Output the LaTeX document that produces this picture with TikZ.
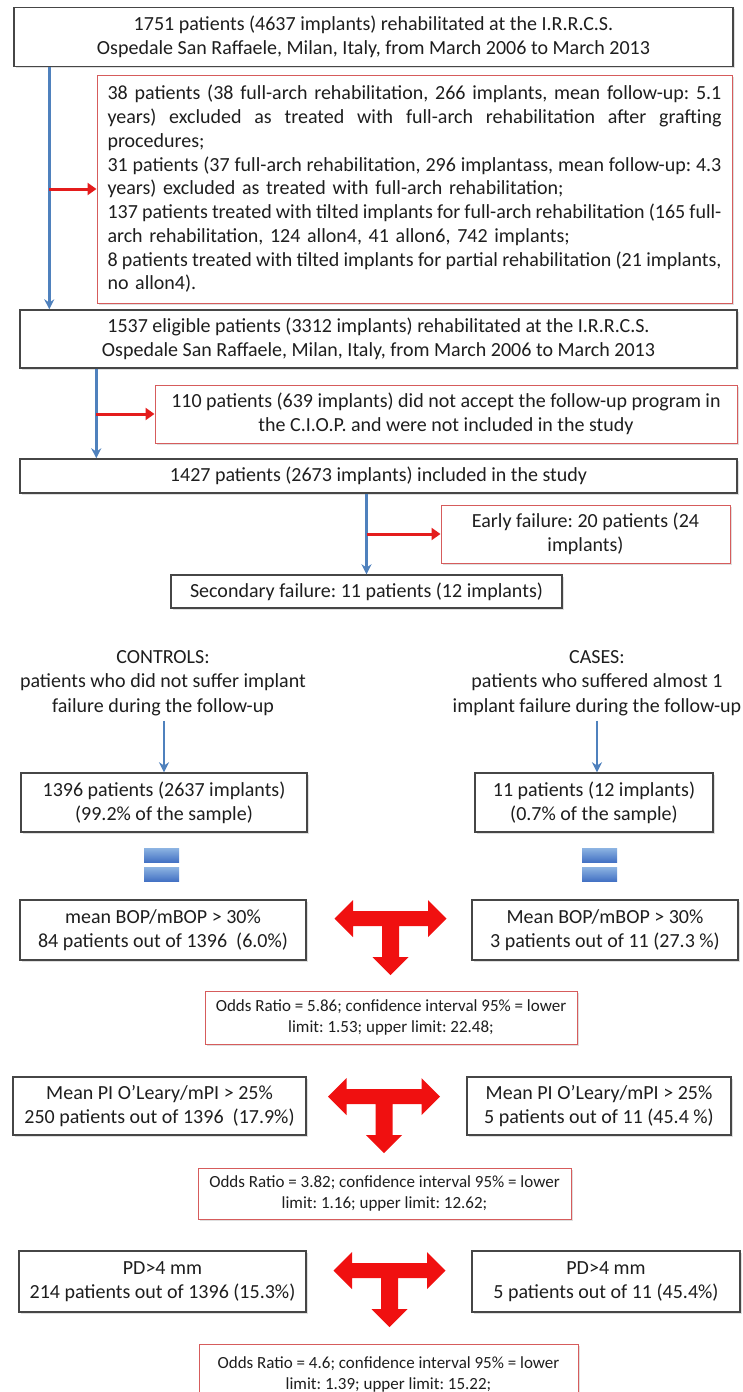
\documentclass[tikz,border=0pt]{standalone}
\usepackage{fontspec}
\setmainfont{Carlito}
\usetikzlibrary{arrows.meta,shadows,calc}
\definecolor{bluel}{RGB}{79,129,189}
\definecolor{redl}{RGB}{228,28,28}
\definecolor{redbox}{RGB}{214,92,92}
\definecolor{grayb}{RGB}{70,70,70}
\definecolor{tred}{RGB}{240,16,16}
\definecolor{eqtop}{RGB}{141,180,226}
\definecolor{eqbot}{RGB}{68,114,196}
\definecolor{txt}{RGB}{30,30,30}
\newcommand{\jline}[1]{\leavevmode\hbox to 614pt{\spaceskip=4.5pt plus 40pt minus 1.8pt\relax #1}}
\tikzset{
 box/.style={draw=grayb, line width=1.4pt, fill=white, inner sep=0pt, align=center, text=txt,
   font=\fontsize{20}{24}\selectfont\frenchspacing, drop shadow={opacity=0.25, shadow xshift=1.5pt, shadow yshift=-1.5pt}},
 rbox/.style={box, draw=redbox, line width=1pt},
 obox/.style={rbox, font=\fontsize{17}{21}\selectfont\frenchspacing},
 plain/.style={inner sep=0pt, align=center, text=txt, font=\fontsize{20}{24.5}\selectfont\frenchspacing},
 bluearrow/.style={draw=bluel, line width=2.4pt, -{Stealth[length=10pt,width=10pt]}},
 redarrow/.style={draw=redl, line width=3pt, -{Triangle[length=9pt,width=12pt]}},
 eqbar/.style={top color=eqtop, bottom color=eqbot, draw=none},
 tarrow/.pic={\fill[tred] (-56,0) -- (-37.5,-18.5) -- (-37.5,-7.5) -- (37.5,-7.5) -- (37.5,-18.5) -- (56,0)
   -- (37.5,18.5) -- (37.5,7.5) -- (8.5,7.5) -- (8.5,38.5) -- (18,38.5) -- (0,56.5) -- (-18,38.5)
   -- (-8.5,38.5) -- (-8.5,7.5) -- (-37.5,7.5) -- (-37.5,18.5) -- cycle;},
}
\begin{document}
\begin{tikzpicture}[x=1pt,y=-1pt]
\useasboundingbox (0,0) rectangle (743,1392);
\fill[white] (0,0) rectangle (743,1392);
\clip (0,0) rectangle (743,1392);

% top flow
\node[box, minimum width=719pt, minimum height=59pt] (top) at (373.5,37)
  {1751 patients (4637 implants) rehabilitated at the I.R.R.C.S.\\Ospedale San Raffaele, Milan, Italy, from March 2006 to March 2013};
\node[rbox, minimum width=635pt, minimum height=228pt, text width=614pt, align=left,
      font=\fontsize{20}{23.75}\selectfont\frenchspacing] (red1) at (414.5,189)
  {\jline{38 patients (38 full-arch rehabilitation, 266 implants, mean follow-up: 5.1}\\
   \jline{years) excluded as treated with full-arch rehabilitation after grafting}\\
   procedures;\\
   \jline{31 patients (37 full-arch rehabilitation, 296 implantass, mean follow-up: 4.3}\\
   years) excluded as treated with full-arch rehabilitation;\\
   \jline{137 patients treated with tilted implants for full-arch rehabilitation (165 full-}\\
   arch rehabilitation, 124 allon4, 41 allon6, 742 implants;\\
   \jline{8 patients treated with tilted implants for partial rehabilitation (21 implants,}\\
   no allon4).};
\node[box, minimum width=717pt, minimum height=58pt] (box2) at (378.5,339)
  {1537 eligible patients (3312 implants) rehabilitated at the I.R.R.C.S.\\Ospedale San Raffaele, Milan, Italy, from March 2006 to March 2013};
\node[rbox, minimum width=582pt, minimum height=58pt] (red2) at (446,414)
  {110 patients (639 implants) did not accept the follow-up program in\\the C.I.O.P. and were not included in the study};
\node[box, minimum width=717pt, minimum height=34pt] (box3) at (378.5,476)
  {1427 patients (2673 implants) included in the study};
\node[rbox, minimum width=289pt, minimum height=58pt] (early) at (585.5,534)
  {Early failure: 20 patients (24\\implants)};
\node[box, minimum width=391pt, minimum height=33pt] (sec) at (366.5,591.5)
  {Secondary failure: 11 patients (12 implants)};

\coordinate (l1) at ([xshift=36pt]top.south west);
\coordinate (l2) at ([xshift=77pt]box2.south west);
\coordinate (l3) at (box3.south -| sec.north);
\draw[bluearrow] (l1) -- (l1 |- box2.north);
\draw[redarrow] (l1 |- red1.west) -- (red1.west);
\draw[bluearrow] (l2) -- (l2 |- box3.north);
\draw[redarrow] (l2 |- red2.west) -- (red2.west);
\draw[bluearrow] (l3) -- (sec.north);
\draw[redarrow] (l3 |- early.west) -- (early.west);

% groups
\node[plain] (ctrl) at (163,683) {CONTROLS:\\patients who did not suffer implant\\failure during the follow-up};
\node[plain] (cases) at (597,683) {CASES:\\patients who suffered almost 1\\implant failure during the follow-up};
\node[box, minimum width=286pt, minimum height=59pt] (nctrl) at (164,802.5)
  {1396 patients (2637 implants)\\(99.2\% of the sample)};
\node[box, minimum width=238pt, minimum height=59pt] (ncase) at (594,802.5)
  {11 patients (12 implants)\\(0.7\% of the sample)};
\coordinate (ca) at (cases.south);
\draw[bluearrow, shorten <=5pt] (ctrl.south -| nctrl.north) -- (nctrl.north);
\draw[bluearrow, shorten <=5pt] (ca) -- (ca |- ncase.north);

% equal signs
\fill[eqbar] (144,848) rectangle (179,862);
\fill[eqbar] (144,867) rectangle (179,881);
\fill[eqbar] (582,848) rectangle (617,862);
\fill[eqbar] (582,867) rectangle (617,881);

% BOP
\node[box, minimum width=286pt, minimum height=60pt] (bopl) at (163,930)
  {mean BOP/mBOP > 30\%\\84 patients out of 1396\ \ (6.0\%)};
\node[box, minimum width=266pt, minimum height=60pt] (bopr) at (605,930)
  {Mean BOP/mBOP > 30\%\\3 patients out of 11 (27.3 \%)};
\pic at (390.5,918.5) {tarrow};
\node[obox, minimum width=372pt, minimum height=53pt] (or1) at (391,1017.5)
  {Odds Ratio = 5.86; confidence interval 95\% = lower\\limit: 1.53; upper limit: 22.48;};

% PI
\node[box, minimum width=293pt, minimum height=58pt] (pil) at (159.5,1106)
  {Mean PI O’Leary/mPI > 25\%\\250 patients out of 1396\ \ (17.9\%)};
\node[box, minimum width=264pt, minimum height=58pt] (pir) at (599,1106)
  {Mean PI O’Leary/mPI > 25\%\\5 patients out of 11 (45.4 \%)};
\pic at (384,1096.5) {tarrow};
\node[obox, minimum width=373pt, minimum height=51pt] (or2) at (384.5,1193.5)
  {Odds Ratio = 3.82; confidence interval 95\% = lower\\limit: 1.16; upper limit: 12.62;};

% PD
\node[box, minimum width=287pt, minimum height=61pt] (pdl) at (162.5,1281.5)
  {PD>4 mm\\214 patients out of 1396 (15.3\%)};
\node[box, minimum width=268pt, minimum height=61pt] (pdr) at (606,1281.5)
  {PD>4 mm\\5 patients out of 11 (45.4\%)};
\pic at (389.5,1270.5) {tarrow};
\node[obox, minimum width=379pt, minimum height=60pt] (or3) at (388.5,1374)
  {Odds Ratio = 4.6; confidence interval 95\% = lower\\limit: 1.39; upper limit: 15.22;};
\end{tikzpicture}
\end{document}
